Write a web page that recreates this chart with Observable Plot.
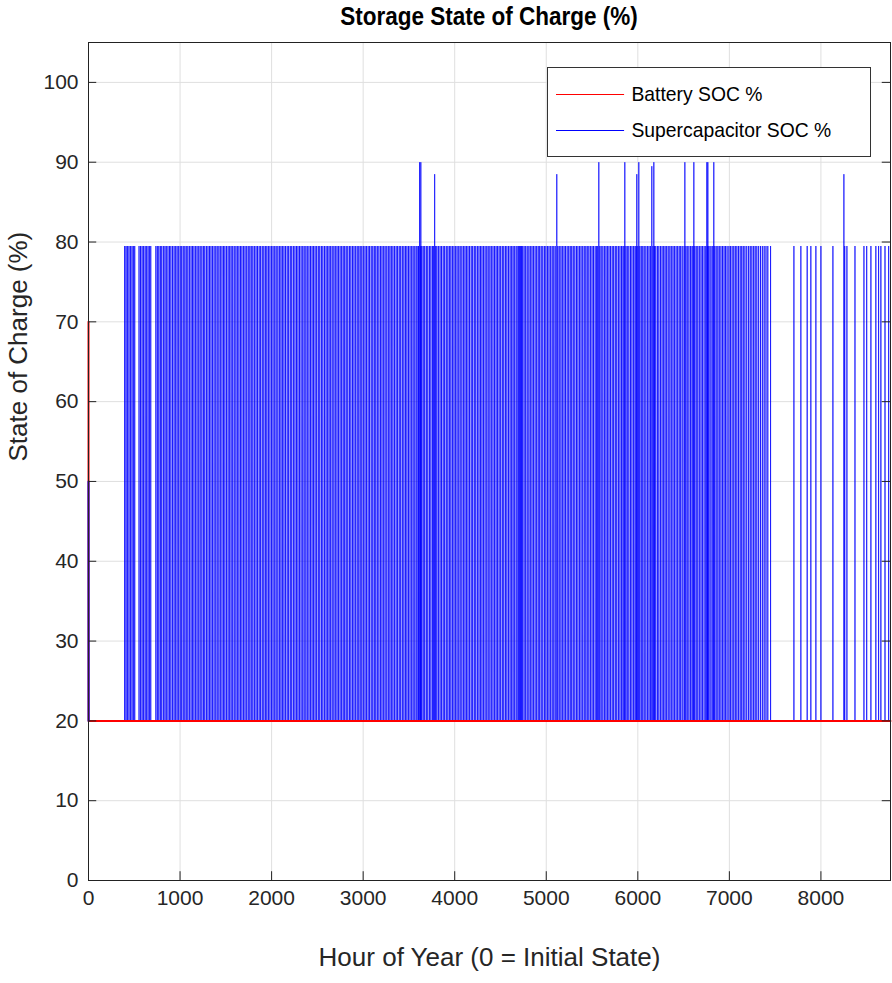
<!DOCTYPE html>
<html><head><meta charset="utf-8">
<script src="https://cdn.jsdelivr.net/npm/d3@7"></script>
<script src="https://cdn.jsdelivr.net/npm/@observablehq/plot@0.6"></script>
<style>
body{margin:0;background:#fff;font-family:"Liberation Sans",Arial,sans-serif;}
#wrap{position:relative;width:892px;height:983px;}
#title{position:absolute;top:2px;left:88px;width:802px;text-align:center;font-weight:bold;font-size:25px;transform:scaleX(0.9);}
#legend{position:absolute;left:547px;top:67px;width:322px;height:88px;border:1.5px solid #333;background:#fff;font-size:21px;}
.li{position:absolute;left:8px;display:flex;align-items:center;transform-origin:left;transform:scaleX(0.92);}
.li span.sw{display:inline-block;width:74px;height:0;border-top:1.5px solid;margin-right:8px;}
</style></head><body>
<div id="wrap"><div id="chart"></div><div id="title">Storage State of Charge (%)</div>
<div id="legend"><div class="li" style="top:14px"><span class="sw" style="border-color:#ff0000"></span>Battery SOC %</div>
<div class="li" style="top:50px"><span class="sw" style="border-color:#0000ff"></span>Supercapacitor SOC %</div></div></div>
<script>
const xTicks = [0,1000,2000,3000,4000,5000,6000,7000,8000];
const yTicks = [0,10,20,30,40,50,60,70,80,90,100];
const batteryHours = [0,1,8760];
const batterySOC = [70,20,20];
const superStart = [[0,50],[1,20]];
const spikeHours = [395,410,425,442,458,475,490,505,552,568,585,600,618,632,650,665,680,736,752,768,785,800,818,835,850,868,885,900,918,935,952,968,985,1002,1018,1035,1052,1068,1085,1102,1120,1136,1152,1170,1186,1204,1220,1238,1255,1270,1288,1305,1322,1338,1355,1372,1390,1406,1424,1440,1458,1475,1490,1508,1525,1542,1558,1575,1592,1610,1626,1643,1660,1676,1694,1710,1728,1745,1762,1778,1795,1812,1830,1846,1864,1880,1898,1915,1932,1948,1965,1982,2000,2016,2034,2050,2068,2085,2102,2118,2135,2152,2170,2186,2204,2220,2238,2255,2272,2288,2305,2322,2340,2356,2374,2390,2408,2425,2442,2458,2475,2492,2510,2526,2544,2560,2578,2595,2612,2628,2645,2662,2680,2696,2714,2730,2748,2765,2782,2798,2815,2832,2850,2866,2884,2900,2918,2935,2952,2968,2985,3002,3020,3036,3054,3070,3088,3105,3122,3138,3155,3172,3190,3206,3224,3240,3258,3275,3292,3308,3325,3342,3360,3376,3394,3410,3428,3445,3462,3478,3495,3512,3530,3546,3564,3580,3598,3605,3628,3640,3656,3672,3690,3706,3724,3740,3758,3770,3792,3805,3822,3840,3856,3874,3890,3908,3925,3942,3958,3975,3992,4010,4026,4044,4060,4078,4095,4112,4128,4145,4162,4180,4196,4214,4230,4248,4265,4282,4298,4315,4332,4350,4366,4384,4400,4418,4435,4452,4468,4485,4502,4520,4536,4554,4570,4588,4605,4622,4638,4655,4672,4690,4700,4710,4720,4730,4742,4758,4775,4792,4810,4826,4844,4860,4878,4895,4912,4928,4945,4962,4980,4996,5014,5030,5048,5065,5082,5098,5126,5142,5160,5176,5194,5210,5228,5245,5262,5278,5295,5312,5330,5346,5364,5380,5398,5415,5432,5448,5465,5482,5500,5516,5534,5550,5562,5585,5600,5618,5635,5652,5668,5685,5702,5720,5736,5754,5770,5788,5805,5822,5838,5850,5870,5885,5902,5920,5936,5954,5970,5982,6000,6022,6038,6054,6070,6088,6105,6122,6138,6165,6182,6196,6214,6230,6248,6265,6282,6298,6315,6332,6350,6366,6384,6400,6418,6435,6452,6468,6485,6505,6525,6540,6558,6575,6592,6604,6622,6638,6655,6672,6690,6706,6724,6742,6760,6775,6790,6810,6822,6840,6856,6874,6890,6908,6925,6942,6958,6975,6995,7012,7030,7048,7065,7082,7100,7118,7135,7152,7170,7190,7210,7228,7246,7265,7282,7300,7320,7340,7360,7380,7400,7420,7450,7705,7781,7850,7890,7945,8000,8131,8260,8284,8372,8470,8500,8546,8600,8630,8655,8700,8740];
const highHours = [3617,3630,3781,5115,5574,5858,5989,6011,6153,6175,6514,6612,6754,6765,6830,8251];
const highPeaks = [90,90,88.5,88.5,90,90,88.5,90,89.5,90,90,90,90,90,90,88.5];

const battery = batteryHours.map((h,i)=>({h,v:batterySOC[i]}));
const peaks = spikeHours.map(h=>({h,p:79.5})).concat(highHours.map((h,i)=>({h,p:highPeaks[i]}))).sort((a,b)=>a.h-b.h);
const sup = superStart.map(([h,v])=>({h,v}));
for (const {h,p} of peaks){ sup.push({h:h-1,v:20},{h,v:p},{h:h+1,v:20}); }
sup.push({h:8760,v:20});

const chart = Plot.plot({
  width:892, height:983, marginLeft:88, marginRight:2, marginTop:42, marginBottom:103,
  style:{fontFamily:"Liberation Sans, Arial, sans-serif", fontSize:"21px", color:"#262626"},
  x:{domain:[0,8760], ticks:xTicks, tickFormat:d=>String(d), tickSize:0, tickPadding:10, label:null},
  y:{domain:[0,105], ticks:yTicks, tickFormat:d=>String(d), tickSize:0, tickPadding:10, label:null},
  marks:[
    Plot.gridX(xTicks,{stroke:"#dfdfdf",strokeOpacity:1}),
    Plot.gridY(yTicks,{stroke:"#dfdfdf",strokeOpacity:1}),
    Plot.line(sup,{x:"h",y:"v",stroke:"#0000ff",strokeWidth:0.7}),
    Plot.line(battery,{x:"h",y:"v",stroke:"#ff0000",strokeWidth:2}),
    Plot.line([{h:0,v:50},{h:1,v:20}],{x:"h",y:"v",stroke:"#0000ff",strokeWidth:2}),
    Plot.ruleY(yTicks,{x1:0,x2:90,stroke:"#222"}),
    Plot.ruleY(yTicks,{x1:8670,x2:8760,stroke:"#222"}),
    Plot.ruleX(xTicks,{y1:0,y2:1.1,stroke:"#222"}),
    Plot.frame({stroke:"#222"}),
    Plot.text(["Hour of Year (0 = Initial State)"],{frameAnchor:"bottom",dy:85,fontSize:26,fill:"#262626"}),
    Plot.text(["State of Charge (%)"],{frameAnchor:"left",dx:-70,rotate:-90,fontSize:26,fill:"#262626"})
  ]
});
document.getElementById("chart").appendChild(chart);
</script></body></html>
